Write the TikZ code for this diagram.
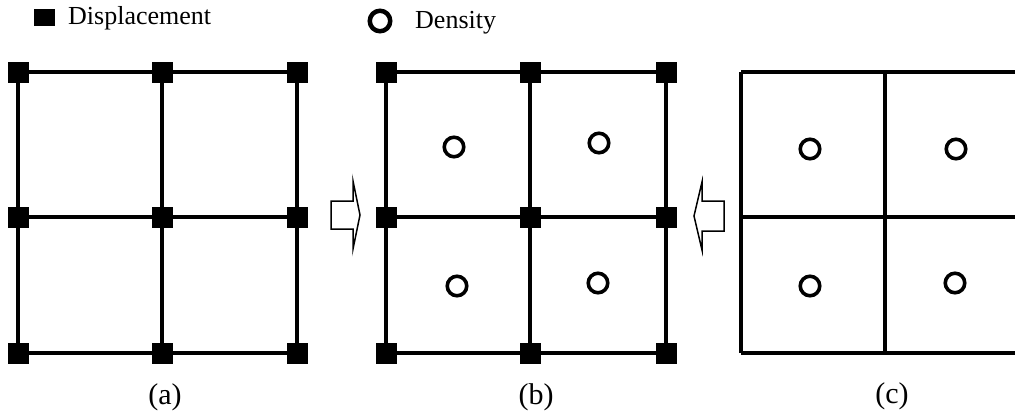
\documentclass[tikz,border=0pt]{standalone}
\usepackage{fontspec}
\setmainfont{Liberation Serif}
\begin{document}
\begin{tikzpicture}[x=1pt,y=-1pt,
  gridline/.style={line width=4.6pt},
  dof/.style={fill=black,draw=none,minimum size=21pt,inner sep=0pt,outer sep=0pt},
  dens/.style={circle,draw=black,line width=3.6pt,minimum size=19.5pt,inner sep=0pt},
  hollowarrow/.style={draw=black,line width=1.5pt,fill=white,line join=miter},
  legendtext/.style={anchor=base west,inner sep=0pt,font=\fontsize{26}{30}\selectfont},
  caption/.style={anchor=base,inner sep=0pt,font=\fontsize{30}{34}\selectfont}
]
\useasboundingbox (0,0) rectangle (1015,415);
\clip (0,0) rectangle (1015,415);

% legend
\node[fill=black,minimum width=21pt,minimum height=17pt,inner sep=0pt] (legsq) at (44,17) {};
\node[legendtext] (legdisp) at (68,24) {Displacement};
\node[circle,draw=black,line width=4.5pt,minimum size=20.5pt,inner sep=0pt] (legcirc) at (380,21) {};
\node[legendtext] (legdens) at (415,28) {Density};

% (a) displacement mesh
\foreach \n/\x in {1/18,2/162,3/297}{
  \foreach \m/\y in {1/72,2/217,3/353}{
    \coordinate (a\n\m) at (\x,\y);
  }
}
\foreach \m in {1,2,3}{
  \draw[gridline] (a1\m) -- (a2\m) -- (a3\m);
  \draw[gridline] (a\m1) -- (a\m2) -- (a\m3);
}
\foreach \n in {1,2,3}{
  \foreach \m in {1,2,3}{
    \node[dof] (na\n\m) at (a\n\m) {};
  }
}

% (b) displacement + density mesh
\foreach \n/\x in {1/386,2/530,3/666}{
  \foreach \m/\y in {1/72,2/217,3/353}{
    \coordinate (b\n\m) at (\x,\y);
  }
}
\foreach \m in {1,2,3}{
  \draw[gridline] (b1\m) -- (b2\m) -- (b3\m);
  \draw[gridline] (b\m1) -- (b\m2) -- (b\m3);
}
\foreach \n in {1,2,3}{
  \foreach \m in {1,2,3}{
    \node[dof] (nb\n\m) at (b\n\m) {};
  }
}
\node[dens] (db1) at (454,147) {};
\node[dens] (db2) at (599,143) {};
\node[dens] (db3) at (457,286) {};
\node[dens] (db4) at (598,283) {};

% (c) density mesh
\foreach \n/\x in {1/741,2/885,3/1021}{
  \foreach \m/\y in {1/72,2/217,3/353}{
    \coordinate (c\n\m) at (\x,\y);
  }
}
\foreach \m in {1,2,3}{
  \draw[gridline] (c1\m) -- (c2\m) -- (c3\m);
  \draw[gridline] (c\m1) -- (c\m2) -- (c\m3);
}
\node[dens] (dc1) at (810,149) {};
\node[dens] (dc2) at (956,149) {};
\node[dens] (dc3) at (810,286) {};
\node[dens] (dc4) at (955,283) {};

% hollow block arrows
\draw[hollowarrow] (331,201) -- (353,201) -- (353,181) -- (360,215)
  -- (353,249) -- (353,229) -- (331,229) -- cycle;
\draw[hollowarrow] (724,201) -- (702,201) -- (702,182) -- (694,216)
  -- (702,250) -- (702,231) -- (724,231) -- cycle;

% captions
\node[caption] (capa) at (165,404) {(a)};
\node[caption] (capb) at (536,404) {(b)};
\node[caption] (capc) at (892,403) {(c)};
\end{tikzpicture}
\end{document}
